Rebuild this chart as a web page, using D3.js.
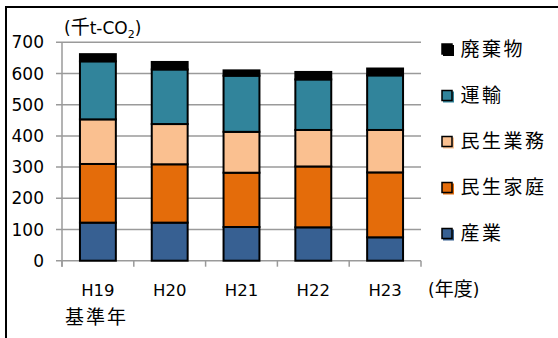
<!DOCTYPE html>
<html>
<head>
<meta charset="utf-8">
<script src="https://cdn.jsdelivr.net/npm/d3@7"></script>
<style>
  html, body { margin: 0; padding: 0; background: #fff; }
  svg { display: block; }
  text { font-family: "DejaVu Sans", "Noto Sans CJK JP", sans-serif; fill: #000; }
  .cjk { font-family: "Noto Sans CJK JP", sans-serif; }
</style>
</head>
<body>
<svg id="chart" width="558" height="338"></svg>
<script>
// Fiscal years (H19 is the base year)
const years = ["H19", "H20", "H21", "H22", "H23"];

// Emissions by sector, thousand t-CO2 (stacked bottom to top)
const industry    = [122, 122, 108, 107, 75];   // 産業
const household   = [188, 187, 174, 195, 208];  // 民生家庭
const business    = [143, 129, 131, 117, 136];  // 民生業務
const transport   = [186, 175, 180, 162, 175];  // 運輸
const waste       = [23, 24, 17, 24, 22];       // 廃棄物

const seriesNames  = ["産業", "民生家庭", "民生業務", "運輸", "廃棄物"];
const seriesColors = ["#376092", "#E46C0A", "#FAC090", "#31849B", "#000000"];
const yTicks = [0, 100, 200, 300, 400, 500, 600, 700];

const rows = years.map((y, i) => ({
  year: y,
  "産業": industry[i],
  "民生家庭": household[i],
  "民生業務": business[i],
  "運輸": transport[i],
  "廃棄物": waste[i]
}));

const svg = d3.select("#chart");

// outer frame
svg.append("rect")
  .attr("x", 6).attr("y", 7)
  .attr("width", 600).attr("height", 400)
  .attr("fill", "none").attr("stroke", "#000").attr("stroke-width", 2);

const plot = { left: 62, right: 421, top: 42.3, bottom: 260.7 };

const x = d3.scaleBand().domain(years).range([plot.left, plot.right]).paddingInner(0.5).paddingOuter(0.25);
const y = d3.scaleLinear().domain([0, 700]).range([plot.bottom, plot.top]);

// gridlines
svg.append("g")
  .selectAll("line")
  .data(yTicks)
  .join("line")
  .attr("x1", plot.left - 6).attr("x2", plot.right)
  .attr("y1", d => y(d)).attr("y2", d => y(d))
  .attr("stroke", "#9a9a9a").attr("stroke-width", 1.5);

// y axis line
svg.append("line")
  .attr("x1", plot.left).attr("x2", plot.left)
  .attr("y1", plot.top).attr("y2", plot.bottom + 6)
  .attr("stroke", "#9a9a9a").attr("stroke-width", 1.5);

// x tick marks at category boundaries
const boundaries = d3.range(years.length + 1).map(i => plot.left + i * x.step());
svg.append("g")
  .selectAll("line")
  .data(boundaries)
  .join("line")
  .attr("x1", d => d).attr("x2", d => d)
  .attr("y1", plot.bottom).attr("y2", plot.bottom + 6)
  .attr("stroke", "#9a9a9a").attr("stroke-width", 1.5);

// y tick labels
svg.append("g")
  .selectAll("text")
  .data(yTicks)
  .join("text")
  .attr("x", 44)
  .attr("y", d => y(d))
  .attr("dy", "0.36em")
  .attr("text-anchor", "end")
  .attr("font-size", 17)
  .text(d => d);

// stacked bars
const stack = d3.stack().keys(seriesNames)(rows);
const color = d3.scaleOrdinal().domain(seriesNames).range(seriesColors);

svg.append("g")
  .selectAll("g")
  .data(stack)
  .join("g")
  .attr("fill", d => color(d.key))
  .selectAll("rect")
  .data(d => d)
  .join("rect")
  .attr("x", d => x(d.data.year))
  .attr("width", x.bandwidth())
  .attr("y", d => y(d[1]))
  .attr("height", d => y(d[0]) - y(d[1]))
  .attr("stroke", "#000")
  .attr("stroke-width", 2);

// category labels
svg.append("g")
  .selectAll("text")
  .data(years)
  .join("text")
  .attr("x", d => x(d) + x.bandwidth() / 2)
  .attr("y", 296)
  .attr("text-anchor", "middle")
  .attr("font-size", 16.5)
  .text(d => d);

svg.append("text")
  .attr("class", "cjk")
  .attr("x", 65).attr("y", 324)
  .attr("font-size", 19)
  .attr("letter-spacing", 2)
  .text("基準年");

const unitYear = svg.append("text")
  .attr("x", 428).attr("y", 296)
  .attr("font-size", 17);
unitYear.append("tspan").text("(");
unitYear.append("tspan").attr("class", "cjk").attr("font-size", 19).text("年度");
unitYear.append("tspan").text(")");

// unit label
const unit = svg.append("text")
  .attr("x", 64).attr("y", 34)
  .attr("font-size", 17);
unit.append("tspan").text("(");
unit.append("tspan").attr("class", "cjk").attr("font-size", 19).text("千");
unit.append("tspan").text("t-CO");
unit.append("tspan").attr("font-size", 11).attr("dy", 4).text("2");
unit.append("tspan").attr("dy", -4).text(")");

// legend, top entry is the last series
const legendY = [49, 95.5, 141.5, 187.5, 233.5];
const legendItems = seriesNames.slice().reverse();
const lg = svg.append("g")
  .selectAll("g")
  .data(legendItems)
  .join("g")
  .attr("transform", (d, i) => `translate(442,${legendY[i]})`);

lg.append("rect")
  .attr("x", 1).attr("y", -4)
  .attr("width", 11).attr("height", 11)
  .attr("fill", d => color(d));
lg.append("rect")
  .attr("x", 0).attr("y", -5)
  .attr("width", 10).attr("height", 10)
  .attr("fill", d => color(d))
  .attr("stroke", "#000").attr("stroke-width", 1.5);
lg.append("text")
  .attr("class", "cjk")
  .attr("x", 18.5)
  .attr("dy", "0.36em")
  .attr("font-size", 19)
  .attr("letter-spacing", 2.5)
  .text(d => d);
</script>
</body>
</html>
